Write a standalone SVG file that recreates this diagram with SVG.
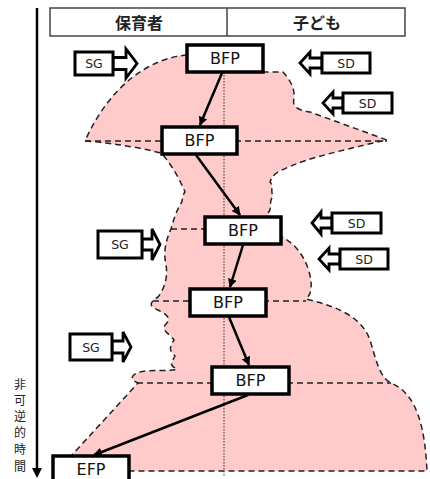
<svg xmlns="http://www.w3.org/2000/svg" width="430" height="479" viewBox="0 0 430 479">
<defs>
<style>
.box{fill:#fff;stroke:#000;stroke-width:3.5}
.lbl{font-family:"DejaVu Sans","Liberation Sans",sans-serif;font-size:16px;fill:#111;text-anchor:middle;dominant-baseline:central}
.small{font-family:"DejaVu Sans","Liberation Sans",sans-serif;font-size:12.5px;fill:#222;text-anchor:middle;dominant-baseline:central}
.sbox{fill:#fff;stroke:#000;stroke-width:3}
.harrow{fill:#fff;stroke:#000;stroke-width:2.8;stroke-linejoin:miter}
.dash{fill:none;stroke:#222;stroke-width:1.5;stroke-dasharray:6,4}
.conn{fill:none;stroke:#000;stroke-width:2.5}
.jp{font-family:"Noto Sans CJK JP","Noto Sans CJK SC",sans-serif;fill:#222}
</style>
<marker id="ah" viewBox="0 0 10 10" refX="9" refY="5" markerWidth="3.6" markerHeight="3.6" orient="auto">
<path d="M0,0 L10,5 L0,10 z" fill="#000"/>
</marker>
</defs>
<rect width="430" height="479" fill="#fff"/>

<g id="header">
<rect x="50" y="8" width="355" height="28" fill="#fff" stroke="#444" stroke-width="1.5"/>
<line x1="227" y1="8" x2="227" y2="36" stroke="#444" stroke-width="1.5"/>
<text class="jp" x="139" y="22" font-size="16" font-weight="bold" text-anchor="middle" dominant-baseline="central">保育者</text>
<text class="jp" x="317" y="22" font-size="16" font-weight="bold" text-anchor="middle" dominant-baseline="central">子ども</text>
</g>

<g id="time-axis">
<line x1="37" y1="8" x2="37" y2="470" stroke="#000" stroke-width="2.5"/>
<polygon points="32,468 42,468 37,478" fill="#000"/>
<g class="jp" font-size="12" fill="#444" text-anchor="middle" dominant-baseline="central">
<text x="20" y="383">非</text>
<text x="20" y="399">可</text>
<text x="20" y="415">逆</text>
<text x="20" y="431">的</text>
<text x="20" y="448">時</text>
<text x="20" y="465">間</text>
</g>
</g>

<g id="region">
<path d="M187,55 C150,58 110,85 85,141 Q125,144 161,153 C168,160 178,175 185,192 C181,197 184,200 180,205 C177,210 174,218 171,229 C166,240 163,252 166,265 C168,276 165,288 158,297 C150,302 148,306 158,310 C166,314 172,318 166,324 C160,330 170,334 174,340 C170,346 168,350 175,356 C172,362 168,365 177,369 C170,372 152,369 140,372 C130,375 130,380 138,383 L72,455 L60,471 L427,471 C425,430 418,394 391,383 C380,378 376,360 370,340 C362,318 340,307 306,299 C312,294 313,284 308,268 C303,255 295,243 280,236 L268,213 C273,208 268,203 273,196 C270,190 274,186 270,182 C272,176 275,174 278,172 C290,166 300,162 317,157 Q350,148 387,140 L310,112 C296,110 292,106 294,98 C295,88 290,80 283,72 L263,72 L263,55 Z" fill="#ffcaca" stroke="none"/>
<path class="dash" d="M187,55 C150,58 110,85 85,141 Q125,144 161,153 C168,160 178,175 185,192 C181,197 184,200 180,205 C177,210 174,218 171,229 C166,240 163,252 166,265 C168,276 165,288 158,297 C150,302 148,306 158,310 C166,314 172,318 166,324 C160,330 170,334 174,340 C170,346 168,350 175,356 C172,362 168,365 177,369 C170,372 152,369 140,372 C130,375 130,380 138,383 L72,455 L60,471 L427,471 C425,430 418,394 391,383 C380,378 376,360 370,340 C362,318 340,307 306,299 C312,294 313,284 308,268 C303,255 295,243 280,236 M268,213 C273,208 268,203 273,196 C270,190 274,186 270,182 C272,176 275,174 278,172 C290,166 300,162 317,157 Q350,148 387,140 L310,112 C296,110 292,106 294,98 C295,88 290,80 283,72 L263,72"/>
<line class="dash" x1="85" y1="141" x2="387" y2="141"/>
<line class="dash" x1="171" y1="229" x2="205" y2="229"/>
<line class="dash" x1="153" y1="301" x2="306" y2="301"/>
<line class="dash" x1="137" y1="383" x2="391" y2="383"/>
<line x1="224" y1="72" x2="224" y2="476" stroke="#333" stroke-width="1" stroke-dasharray="1.5,1.5"/>
</g>

<g id="connectors">
<line class="conn" x1="222" y1="73" x2="200" y2="125" marker-end="url(#ah)"/>
<line class="conn" x1="196" y1="155" x2="240" y2="215" marker-end="url(#ah)"/>
<line class="conn" x1="243" y1="245" x2="230" y2="287" marker-end="url(#ah)"/>
<line class="conn" x1="229" y1="317" x2="249" y2="365" marker-end="url(#ah)"/>
<line class="conn" x1="248" y1="395" x2="94" y2="455" marker-end="url(#ah)"/>
</g>

<g id="bfp1"><rect class="box" x="187" y="45" width="76" height="27"/><text class="lbl" x="225" y="58.5">BFP</text></g>
<g id="bfp2"><rect class="box" x="162" y="127" width="75" height="27"/><text class="lbl" x="199.5" y="140.5">BFP</text></g>
<g id="bfp3"><rect class="box" x="205" y="217" width="76" height="27"/><text class="lbl" x="243" y="230.5">BFP</text></g>
<g id="bfp4"><rect class="box" x="190" y="289" width="76" height="27"/><text class="lbl" x="228" y="302.5">BFP</text></g>
<g id="bfp5"><rect class="box" x="212" y="367" width="77" height="27"/><text class="lbl" x="250.5" y="380.5">BFP</text></g>
<g id="efp"><rect class="box" x="53" y="456" width="76" height="30"/><text class="lbl" x="91" y="469">EFP</text></g>

<g id="sg1"><polygon class="harrow" points="113,57.5 126,57.5 126,49 137,63.5 126,78 126,69.5 113,69.5"/><rect class="sbox" x="75" y="52" width="38" height="23"/><text class="small" x="94" y="63.5">SG</text></g>
<g id="sd1"><polygon class="harrow" points="322,58 310,58 310,52 300,63 310,74 310,68 322,68"/><rect class="sbox" x="322" y="53" width="48" height="20"/><text class="small" x="346" y="63">SD</text></g>
<g id="sd2"><polygon class="harrow" points="343,98 333,98 333,92 323,103 333,114 333,108 343,108"/><rect class="sbox" x="343" y="93" width="49" height="20"/><text class="small" x="367.5" y="103">SD</text></g>
<g id="sg2"><polygon class="harrow" points="142,239 152,239 152,229 160,244.5 152,260 152,250 142,250"/><rect class="sbox" x="98" y="231" width="44" height="27"/><text class="small" x="120" y="244.5">SG</text></g>
<g id="sd3"><polygon class="harrow" points="332,218 321,218 321,212 312,223 321,234 321,228 332,228"/><rect class="sbox" x="332" y="213" width="49" height="20"/><text class="small" x="356.5" y="223">SD</text></g>
<g id="sd4"><polygon class="harrow" points="340,254 329,254 329,248 319,259 329,270 329,264 340,264"/><rect class="sbox" x="340" y="249" width="48" height="20"/><text class="small" x="364" y="259">SD</text></g>
<g id="sg3"><polygon class="harrow" points="112,341 123,341 123,332 131,347 123,362 123,353 112,353"/><rect class="sbox" x="70" y="334" width="42" height="26"/><text class="small" x="91" y="347">SG</text></g>
</svg>
